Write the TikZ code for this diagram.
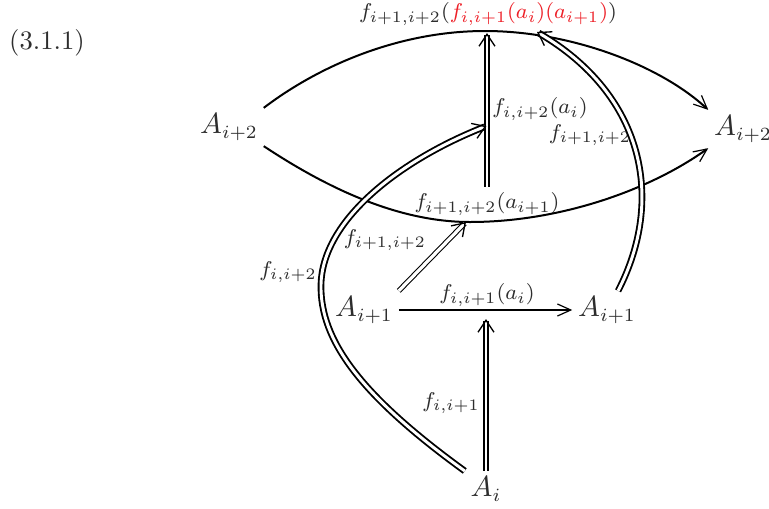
\documentclass[tikz,border=0pt]{standalone}
\usepackage{amsmath}
\usepackage{xcolor}
\usepackage{tikz}
\usetikzlibrary{arrows.meta,positioning,calc}
\definecolor{inkgray}{RGB}{45,45,45}
\definecolor{termred}{RGB}{237,32,40}

\begin{document}
\begin{tikzpicture}[x=0.375pt, y=-0.375pt,
        >={Straight Barb[length=5pt,width=4.5pt,line width=0.45pt]},
        obj/.style={font=\fontsize{10.5}{12}\selectfont, text=inkgray, inner sep=2pt},
        lbl/.style={font=\fontsize{8.3}{10}\selectfont, text=inkgray, inner sep=2pt},
        arc/.style={line width=0.75pt},
        dbl/.style={double, line width=0.7pt, double distance=1.1pt},
        thindbl/.style={double, line width=0.4pt, double distance=1.2pt},
        dbltip/.style={-{Straight Barb[length=4.5pt,width=6pt,line width=0.5pt]}}]
        \useasboundingbox (0,0) rectangle (769,508);

        % Equation tag
        \node[text=inkgray] (tag) at (47,43) {$(3.1.1)$};

        % Objects
        \node[obj] (atwoL) at (229,127) {$A_{i+2}$};
        \node[obj] (atwoR) at (743,129) {$A_{i+2}$};
        \node[obj] (aoneL) at (364,310) {$A_{i+1}$};
        \node[obj] (aoneR) at (607,310) {$A_{i+1}$};
        \node[obj] (ai) at (486,489) {$A_i$};

        % Labels
        \node[lbl] (ltop) at (488,14) {$f_{i+1,i+2}(\textcolor{termred}{f_{i,i+1}(a_i)(a_{i+1})})$};
        \node[lbl] (l02) at (540,109) {$f_{i,i+2}(a_i)$};
        \node[lbl] (l12r) at (590,135) {$f_{i+1,i+2}$};
        \node[lbl] (l12a) at (487,204) {$f_{i+1,i+2}(a_{i+1})$};
        \node[lbl] (l12m) at (385,240) {$f_{i+1,i+2}$};
        \node[lbl] (l02m) at (288,272) {$f_{i,i+2}$};
        \node[lbl] (l01a) at (487,295) {$f_{i,i+1}(a_i)$};
        \node[lbl] (l01) at (451,403) {$f_{i,i+1}$};

        % Element points
        \coordinate (e01) at (486,319);
        \coordinate (e12) at (466,222);
        \coordinate (etopa) at (487,33);
        \coordinate (etopb) at (537,32);

        % Arcs between the A_{i+2}
        \draw[->, arc] (atwoL.north east) .. controls (320,65) and (400,31) .. (485,31)
            .. controls (570,31) and (660,65) .. (atwoR.north west);
        \draw[->, arc] (atwoL.south east) .. controls (330,190) and (400,222) .. (470,222)
            .. controls (560,222) and (650,190) .. (atwoR.south west);

        % Horizontal arrow
        \draw[->, arc] (aoneL.east) -- (aoneR.west);

        % Double arrows
        \draw[dbl, dbltip] (ai.north) -- (e01);
        \draw[thindbl, dbltip] (aoneL.north east) -- (e12);
        \draw[dbl, dbltip] (l12a.north) -- (etopa);
        \draw[dbl, dbltip] (ai.north west) .. controls (360,395) and (320,340) .. (321,285)
            .. controls (322,220) and (400,160) .. (l02.south west);
        \draw[dbl, dbltip] (aoneR.60) .. controls (665,200) and (645,95) .. (etopb);
    \end{tikzpicture}
\end{document}
